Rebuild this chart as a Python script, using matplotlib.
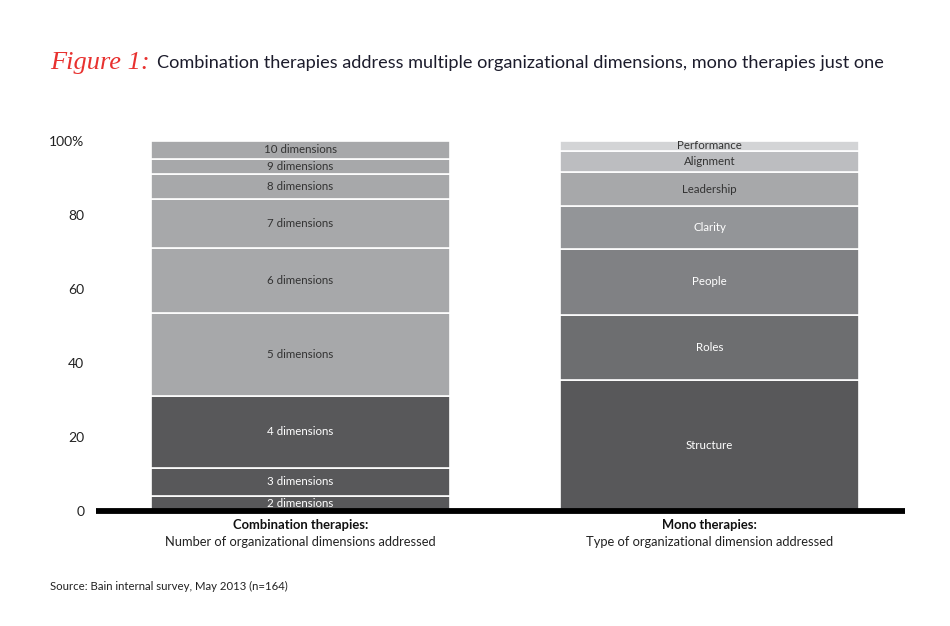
import matplotlib
matplotlib.use("Agg")
import matplotlib.pyplot as plt

plt.rcParams['font.family'] = ['Lato', 'DejaVu Sans']

# Data
combo_labels = ["2 dimensions", "3 dimensions", "4 dimensions", "5 dimensions", "6 dimensions",
                "7 dimensions", "8 dimensions", "9 dimensions", "10 dimensions"]
combo_values = [4.0, 7.6, 19.4, 22.4, 17.6, 13.2, 6.8, 4.1, 5.0]
combo_colors = ["#58585a", "#58585a", "#58585a", "#a7a8aa", "#a7a8aa",
                "#a7a8aa", "#a7a8aa", "#a7a8aa", "#a7a8aa"]
combo_text = ["white", "white", "white", "#333333", "#333333",
              "#333333", "#333333", "#333333", "#333333"]

mono_labels = ["Structure", "Roles", "People", "Clarity", "Leadership", "Alignment", "Performance"]
mono_values = [35.2, 17.7, 17.9, 11.7, 9.0, 5.9, 2.6]
mono_colors = ["#58585a", "#6d6e70", "#808184", "#939598", "#a7a8aa", "#bcbdc0", "#d3d4d6"]
mono_text = ["white", "white", "white", "white", "#333333", "#333333", "#333333"]

group_titles = ["Combination therapies:", "Mono therapies:"]
group_subtitles = ["Number of organizational dimensions addressed",
                   "Type of organizational dimension addressed"]
yticks = [0, 20, 40, 60, 80, 100]
yticklabels = ["0", "20", "40", "60", "80", "100%"]

W, H = 950, 626
fig = plt.figure(figsize=(W / 100, H / 100), dpi=100)
ax = fig.add_axes([96 / W, 1 - 510.5 / H, 809 / W, (510.5 - 141) / H])

bar_w = 0.731
for xpos, labels, values, colors, tcols in [
        (0, combo_labels, combo_values, combo_colors, combo_text),
        (1, mono_labels, mono_values, mono_colors, mono_text)]:
    bottom = 0
    for lab, v, c, tc in zip(labels, values, colors, tcols):
        ax.bar(xpos, v, bottom=bottom, width=bar_w, color=c, edgecolor="white",
               linewidth=1.2, zorder=2)
        ax.text(xpos, bottom + v / 2, lab, ha="center", va="center", fontsize=8.3,
                color=tc, zorder=3)
        bottom += v

ax.set_xlim(-0.5, 1.478)
ax.set_ylim(0, 100)
for s in ["top", "right", "left"]:
    ax.spines[s].set_visible(False)
ax.spines["bottom"].set_linewidth(4.2)
ax.spines["bottom"].set_color("black")
ax.spines["bottom"].set_capstyle("butt")
ax.spines["bottom"].set_zorder(4)
ax.set_xticks([])
ax.set_yticks(yticks)
ax.set_yticklabels(yticklabels, fontsize=10, color="#222222")
ax.tick_params(axis="y", length=0, pad=8.5)

# Group labels
for xpos, t, st in zip([0, 1], group_titles, group_subtitles):
    xf = (96 + (xpos + 0.5) / 1.978 * 809) / W
    fig.text(xf, 1 - 525 / H, t, ha="center", va="center", fontsize=9.4,
             fontweight="bold", color="#111111")
    fig.text(xf, 1 - 542 / H, st, ha="center", va="center", fontsize=9.3, color="#222222")

# Title
fig.text(50 / W, 1 - 63 / H, "Figure 1:", ha="left", va="center", fontsize=19,
         color="#e8312f", family="Liberation Serif", style="italic")
fig.text(157 / W, 1 - 63 / H,
         "Combination therapies address multiple organizational dimensions, mono therapies just one",
         ha="left", va="center", fontsize=13.05, color="#1c1c2c")

# Source
fig.text(50 / W, 1 - 586 / H, "Source: Bain internal survey, May 2013 (n=164)",
         ha="left", va="center", fontsize=8.2, color="#222222")

fig.savefig("out.png", dpi=100)
